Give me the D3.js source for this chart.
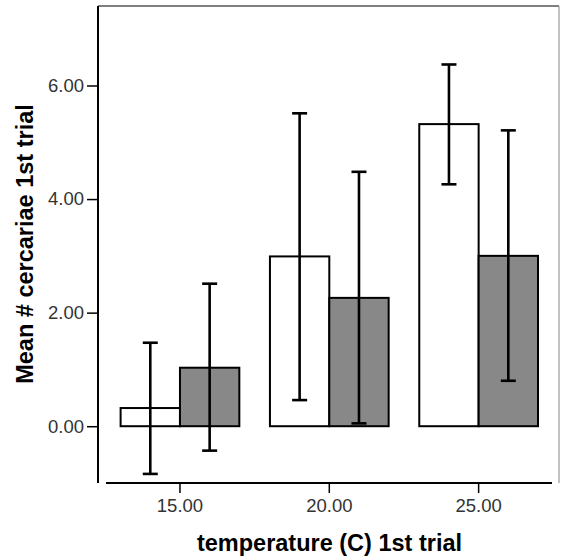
<!DOCTYPE html>
<html>
<head>
<meta charset="utf-8">
<script src="https://cdn.jsdelivr.net/npm/d3@7"></script>
<style>
  html, body { margin: 0; padding: 0; background: #fff; }
  svg { display: block; }
</style>
</head>
<body>
<svg id="chart" width="561" height="558"></svg>
<script>
const categories = ["15.00", "20.00", "25.00"];
const seriesNames = ["Group 1", "Group 2"];
const seriesColors = ["#ffffff", "#888888"];
const meanWhite  = [0.32, 2.99, 5.32];
const upperWhite = [1.47, 5.51, 6.37];
const lowerWhite = [-0.84, 0.46, 4.26];
const meanGray   = [1.03, 2.26, 3.00];
const upperGray  = [2.51, 4.48, 5.21];
const lowerGray  = [-0.43, 0.05, 0.80];
const yTicks = [0, 2, 4, 6];
const yLabel = "Mean # cercariae 1st trial";
const xLabel = "temperature (C) 1st trial";

const series = [
  { name: seriesNames[0], color: seriesColors[0], mean: meanWhite, upper: upperWhite, lower: lowerWhite },
  { name: seriesNames[1], color: seriesColors[1], mean: meanGray, upper: upperGray, lower: lowerGray }
];

const FONT = "Liberation Sans, Arial, sans-serif";
const svg = d3.select("#chart");
const frame = { left: 98, right: 559, top: 6, bottom: 483 };

const x = d3.scaleBand().domain(categories).range([105.3, 553.3])
  .paddingInner(0.205).paddingOuter(0.1025);
const xs = d3.scaleBand().domain(seriesNames).range([0, x.bandwidth()]);
const y = d3.scaleLinear().domain([-1.0, 7.4]).range([frame.bottom, frame.top]);

// frame top/right
svg.append("line").attr("x1", frame.left).attr("x2", frame.right).attr("y1", frame.top).attr("y2", frame.top)
  .attr("stroke", "#555").attr("stroke-width", 1.5);
svg.append("line").attr("x1", frame.right).attr("x2", frame.right).attr("y1", frame.top).attr("y2", frame.bottom)
  .attr("stroke", "#999").attr("stroke-width", 1.2);

// bars
const groups = svg.append("g");
series.forEach(s => {
  const g = groups.append("g");
  g.selectAll("rect").data(categories).join("rect")
    .attr("x", (c) => x(c) + xs(s.name))
    .attr("width", xs.bandwidth())
    .attr("y", (c, i) => y(Math.max(0, s.mean[i])))
    .attr("height", (c, i) => Math.abs(y(s.mean[i]) - y(0)))
    .attr("fill", s.color)
    .attr("stroke", "#000")
    .attr("stroke-width", 2);
});

// error bars
const capW = 15;
series.forEach(s => {
  const g = groups.append("g").attr("stroke", "#000").attr("stroke-width", 2.6);
  categories.forEach((c, i) => {
    const cx = x(c) + xs(s.name) + xs.bandwidth() / 2;
    g.append("line").attr("x1", cx).attr("x2", cx).attr("y1", y(s.upper[i])).attr("y2", y(s.lower[i]));
    g.append("line").attr("x1", cx - capW / 2).attr("x2", cx + capW / 2).attr("y1", y(s.upper[i])).attr("y2", y(s.upper[i]));
    g.append("line").attr("x1", cx - capW / 2).attr("x2", cx + capW / 2).attr("y1", y(s.lower[i])).attr("y2", y(s.lower[i]));
  });
});

// y axis
const yAxis = d3.axisLeft(y).tickValues(yTicks).tickFormat(d3.format(".2f")).tickSize(11).tickPadding(3);
const gy = svg.append("g").attr("transform", `translate(${frame.left},0)`).call(yAxis)
  .attr("font-family", FONT).attr("font-size", 18.5);
gy.select(".domain").remove();
gy.selectAll(".tick line").attr("stroke", "#000").attr("stroke-width", 1.5);
gy.selectAll(".tick text").style("font-family", FONT).style("font-size", "18.5px").attr("fill", "#333");
svg.append("line").attr("x1", frame.left).attr("x2", frame.left).attr("y1", frame.top).attr("y2", frame.bottom)
  .attr("stroke", "#000").attr("stroke-width", 2);

// x axis
const xAxis = d3.axisBottom(x).tickSize(10).tickPadding(6);
const gx = svg.append("g").attr("transform", `translate(0,${frame.bottom})`).call(xAxis)
  .attr("font-family", FONT).attr("font-size", 18.5);
gx.select(".domain").remove();
gx.selectAll(".tick line").attr("stroke", "#000").attr("stroke-width", 1.5);
gx.selectAll(".tick text").style("font-family", FONT).style("font-size", "18.5px").attr("fill", "#333");
svg.append("line").attr("x1", 106).attr("x2", 552).attr("y1", frame.bottom).attr("y2", frame.bottom)
  .attr("stroke", "#000").attr("stroke-width", 2);

// titles
svg.append("text").attr("transform", "translate(33,244) rotate(-90)")
  .attr("text-anchor", "middle").style("font-family", FONT)
  .style("font-weight", "bold").style("font-size", "23.5px").attr("fill", "#000").text(yLabel);
svg.append("text").attr("x", 329.5).attr("y", 551)
  .attr("text-anchor", "middle").style("font-family", FONT)
  .style("font-weight", "bold").style("font-size", "23.5px").attr("fill", "#000").text(xLabel);
</script>
</body>
</html>
